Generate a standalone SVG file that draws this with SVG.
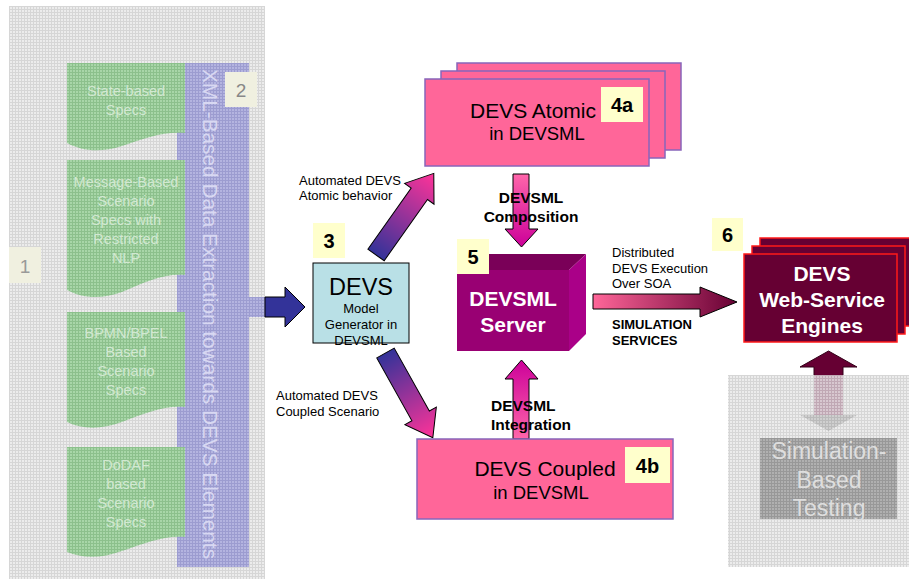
<svg xmlns="http://www.w3.org/2000/svg" width="909" height="580" viewBox="0 0 909 580">
<defs>
<pattern id="pGray" width="3" height="3" patternUnits="userSpaceOnUse"><rect width="3" height="3" fill="#ececec"/><path d="M0 0.5H3M0.5 0V3" stroke="#d6d6d6" stroke-width="1"/></pattern>
<pattern id="pGreen" width="3" height="3" patternUnits="userSpaceOnUse"><rect width="3" height="3" fill="#a8d6a8"/><path d="M0 0.5H3M0.5 0V3" stroke="#8cc08c" stroke-width="1"/></pattern>
<pattern id="pPurple" width="3" height="3" patternUnits="userSpaceOnUse"><rect width="3" height="3" fill="#b4b4e0"/><path d="M0 0.5H3M0.5 0V3" stroke="#9c9cd0" stroke-width="1"/></pattern>
<pattern id="pDark" width="3" height="3" patternUnits="userSpaceOnUse"><rect width="3" height="3" fill="#b0b0b0"/><path d="M0 0.5H3M0.5 0V3" stroke="#989898" stroke-width="1"/></pattern>
<pattern id="pFadeArrow" width="3" height="3" patternUnits="userSpaceOnUse"><rect width="3" height="3" fill="#d8c8d0"/><path d="M0 0.5H3M0.5 0V3" stroke="#c0a8b4" stroke-width="1"/></pattern>
<pattern id="pFadeHead" width="3" height="3" patternUnits="userSpaceOnUse"><rect width="3" height="3" fill="#cfcfcf"/><path d="M0 0.5H3M0.5 0V3" stroke="#bababa" stroke-width="1"/></pattern>
<linearGradient id="gBluePink" x1="0" y1="0" x2="1" y2="0"><stop offset="0" stop-color="#333399"/><stop offset="1" stop-color="#ff3399"/></linearGradient>
<linearGradient id="gDown" x1="0" y1="0" x2="0" y2="1"><stop offset="0" stop-color="#ff66aa"/><stop offset="1" stop-color="#cc0099"/></linearGradient>
<linearGradient id="gUp" x1="0" y1="0" x2="0" y2="1"><stop offset="0" stop-color="#cc0099"/><stop offset="1" stop-color="#ff66aa"/></linearGradient>
<linearGradient id="gRight" x1="0" y1="0" x2="1" y2="0"><stop offset="0" stop-color="#ff6699"/><stop offset="1" stop-color="#660033"/></linearGradient>
</defs>
<style>
text{font-family:"Liberation Sans",Arial,sans-serif;}
.num{font-size:20px;font-weight:bold;fill:#000;text-anchor:middle;}
.numbox{fill:#ffffcc;}
.pink{fill:#ff6699;stroke:#8866bb;stroke-width:1.5;}
.eng{fill:#660033;stroke:#ff1a1a;stroke-width:1.5;}
.doc{fill:url(#pGreen);}
.doctxt{font-size:14.5px;fill:#d2e8d2;text-anchor:middle;}
.lbl{font-size:13px;fill:#000;}
.blbl{font-size:15.5px;font-weight:bold;fill:#000;}
.sblbl{font-size:13px;font-weight:bold;fill:#000;}
.arr{stroke:#000;stroke-width:1;}
</style>
<rect width="909" height="580" fill="#fff"/>

<g id="panel1">
<rect x="9" y="6" width="256" height="573" fill="url(#pGray)"/>
<rect x="177" y="63" width="72" height="504" fill="url(#pPurple)"/>
<rect x="241" y="297" width="24" height="20" fill="url(#pPurple)"/>
<text transform="translate(203,314) rotate(90)" text-anchor="middle" font-size="20.8" fill="#d8d8f2">XML-Based Data Extraction towards DEVS Elements</text>
<g id="badge2"><rect x="225" y="72" width="32" height="35" fill="#f0f0e0"/><text x="241" y="97" text-anchor="middle" font-size="19" fill="#888">2</text></g>
<g id="badge1"><rect x="9" y="247" width="32" height="36" fill="#f0f0e0"/><text x="25" y="273" text-anchor="middle" font-size="19" fill="#999">1</text></g>
</g>

<g id="doc-state">
<path class="doc" d="M67,63 H185 V133 C165,131 145,138 122,146 C100,153 82,151 67,143 Z"/>
<text class="doctxt" x="126" y="96">State-based</text>
<text class="doctxt" x="126" y="115">Specs</text>
</g>
<g id="doc-message">
<path class="doc" d="M67,160 H185 V275 C165,273 145,282 122,292 C100,300 82,298 67,290 Z"/>
<text class="doctxt" x="126" y="187">Message-Based</text>
<text class="doctxt" x="126" y="206">Scenario</text>
<text class="doctxt" x="126" y="225">Specs with</text>
<text class="doctxt" x="126" y="244">Restricted</text>
<text class="doctxt" x="126" y="263">NLP</text>
</g>
<g id="doc-bpmn">
<path class="doc" d="M67,312 H185 V407 C165,405 145,413 122,422 C100,430 82,429 67,422 Z"/>
<text class="doctxt" x="126" y="338">BPMN/BPEL</text>
<text class="doctxt" x="126" y="357">Based</text>
<text class="doctxt" x="126" y="376">Scenario</text>
<text class="doctxt" x="126" y="395">Specs</text>
</g>
<g id="doc-dodaf">
<path class="doc" d="M67,447 H185 V537 C165,535 145,543 122,551 C100,559 82,558 67,552 Z"/>
<text class="doctxt" x="126" y="470">DoDAF</text>
<text class="doctxt" x="126" y="489">based</text>
<text class="doctxt" x="126" y="508">Scenario</text>
<text class="doctxt" x="126" y="527">Specs</text>
</g>

<g id="connectors">
<polygon class="arr" fill="#333399" points="265,297 285,297 285,287 305,307 285,327 285,317 265,317"/>
<polygon class="arr" fill="url(#gBluePink)" transform="translate(376,255) rotate(-54.7)" points="0,-10 75,-10 75,-18 100,0 75,18 75,10 0,10"/>
<polygon class="arr" fill="url(#gBluePink)" transform="translate(385.5,353) rotate(60.8)" points="0,-10 72,-10 72,-18 97,0 72,18 72,10 0,10"/>
<polygon class="arr" fill="url(#gDown)" points="513,174 529,174 529,229 538,229 521.5,247 505,229 513,229"/>
<polygon class="arr" fill="url(#gUp)" points="513,439 529,439 529,379 538,379 521.5,360 505,379 513,379"/>
<polygon class="arr" fill="url(#gRight)" points="593,294 700,294 700,287 737,302 700,317 700,309 593,309"/>
<text class="lbl" x="299" y="185">Automated DEVS</text>
<text class="lbl" x="299" y="200">Atomic behavior</text>
<text class="lbl" x="276" y="400">Automated DEVS</text>
<text class="lbl" x="276" y="416">Coupled Scenario</text>
<text class="blbl" x="531" y="203" text-anchor="middle">DEVSML</text>
<text class="blbl" x="531" y="222" text-anchor="middle">Composition</text>
<text class="blbl" x="491" y="411">DEVSML</text>
<text class="blbl" x="491" y="430">Integration</text>
<text class="lbl" x="612" y="257">Distributed</text>
<text class="lbl" x="612" y="273">DEVS Execution</text>
<text class="lbl" x="612" y="288">Over SOA</text>
<text class="sblbl" x="612" y="329">SIMULATION</text>
<text class="sblbl" x="612" y="345">SERVICES</text>
</g>

<g id="node3">
<rect x="313" y="263" width="96" height="80" fill="#b9e0e6" stroke="#000" stroke-width="1"/>
<text x="361" y="295" text-anchor="middle" font-size="23.5">DEVS</text>
<text x="361" y="313" text-anchor="middle" font-size="13">Model</text>
<text x="361" y="329" text-anchor="middle" font-size="13">Generator in</text>
<text x="361" y="345" text-anchor="middle" font-size="13">DEVSML</text>
<rect class="numbox" x="313" y="223" width="32" height="35"/>
<text class="num" x="329" y="248">3</text>
</g>

<g id="node4a">
<rect class="pink" x="457" y="63" width="224" height="87"/>
<rect class="pink" x="441" y="71" width="224" height="87"/>
<rect class="pink" x="425" y="79" width="224" height="87"/>
<text x="533" y="118" text-anchor="middle" font-size="21">DEVS Atomic</text>
<text x="537" y="140" text-anchor="middle" font-size="18.5">in DEVSML</text>
<rect class="numbox" x="601" y="87" width="42" height="35"/>
<text class="num" x="622" y="112">4a</text>
</g>

<g id="node5">
<polygon points="457,270 474,254 586,254 569,270" fill="#7a0058"/>
<polygon points="569,270 586,254 586,334 569,351" fill="#aa0088"/>
<rect x="457" y="270" width="112" height="81" fill="#990073"/>
<text x="513" y="306" text-anchor="middle" font-size="21" font-weight="bold" fill="#fff">DEVSML</text>
<text x="513" y="332" text-anchor="middle" font-size="21" font-weight="bold" fill="#fff">Server</text>
<rect class="numbox" x="457" y="239" width="32" height="35"/>
<text class="num" x="473" y="264">5</text>
</g>

<g id="node4b">
<rect class="pink" x="417" y="439" width="256" height="80"/>
<text x="545" y="476" text-anchor="middle" font-size="21">DEVS Coupled</text>
<text x="541" y="499" text-anchor="middle" font-size="18.5">in DEVSML</text>
<rect class="numbox" x="625" y="447" width="45" height="36"/>
<text class="num" x="647.5" y="473">4b</text>
</g>

<g id="node6">
<rect class="eng" x="760" y="238" width="153" height="88"/>
<rect class="eng" x="752" y="246" width="153" height="88"/>
<rect class="eng" x="744" y="254" width="153" height="88"/>
<text x="822" y="281" text-anchor="middle" font-size="21" font-weight="bold" fill="#fff">DEVS</text>
<text x="822" y="307" text-anchor="middle" font-size="21" font-weight="bold" fill="#fff">Web-Service</text>
<text x="822" y="333" text-anchor="middle" font-size="21" font-weight="bold" fill="#fff">Engines</text>
<rect class="numbox" x="712" y="218" width="31" height="33"/>
<text class="num" x="727.5" y="242">6</text>
</g>

<g id="node7">
<polygon points="814,376 814,367 800,367 828.5,351 857,367 843,367 843,376" fill="#660033" stroke="#330018" stroke-width="1"/>
<rect x="728" y="375" width="181" height="192" fill="url(#pGray)"/>
<rect x="814" y="375" width="29" height="40" fill="url(#pFadeArrow)"/>
<polygon points="800,415 857,415 828.5,431" fill="url(#pFadeHead)"/>
<rect x="760" y="438" width="137" height="81" fill="url(#pDark)"/>
<text x="829" y="459" text-anchor="middle" font-size="23" fill="#dedede">Simulation-</text>
<text x="829" y="488" text-anchor="middle" font-size="23" fill="#dedede">Based</text>
<text x="829" y="516" text-anchor="middle" font-size="23" fill="#dedede">Testing</text>
</g>
</svg>
